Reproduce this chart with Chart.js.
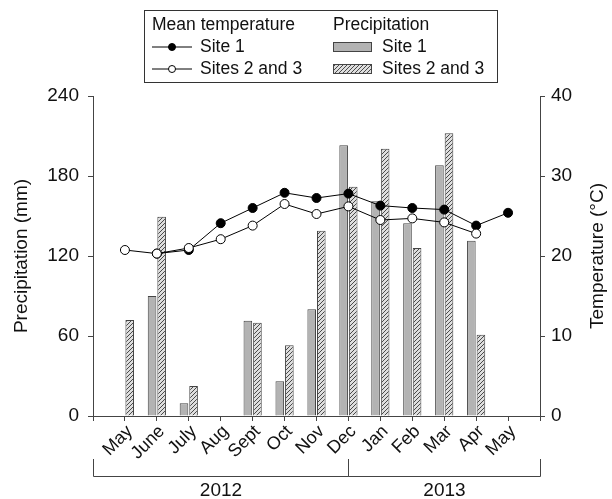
<!DOCTYPE html>
<html lang="en">
  <head>
    <meta charset="UTF-8" />
    <title>Precipitation and temperature</title>
    <script src="https://cdn.jsdelivr.net/npm/chart.js@4.4.0/dist/chart.umd.min.js"></script>
    <style>
      html, body { margin: 0; padding: 0; background: #fff; }
    </style>
  </head>
  <body>
    <canvas id="climate" width="612" height="499"></canvas>
    <script>
      // months May 2012 .. May 2013
      var months = ["May", "June", "July", "Aug", "Sept", "Oct", "Nov", "Dec", "Jan", "Feb", "Mar", "Apr", "May"];
      var precipSite1 = [null, 90, 9.5, null, 71.5, 26, 80, 203, 161, 144.5, 188, 131.5, null];
      var precipSites23 = [72, 149.5, 22.5, null, 70, 53, 139, 172, 200.5, 126, 212, 61, null];
      var tempSite1 = [null, 20.3, 20.75, 24.1, 26.0, 27.9, 27.25, 27.8, 26.3, 26.0, 25.8, 23.8, 25.4];
      var tempSites23 = [20.75, 20.3, 21.0, 22.1, 23.8, 26.5, 25.25, 26.2, 24.5, 24.7, 24.2, 22.8, null];
      var precipTicks = [0, 60, 120, 180, 240];
      var tempTicks = [0, 10, 20, 30, 40];
      var years = [{ label: "2012", from: 0, to: 8 }, { label: "2013", from: 8, to: 14 }];

      var FONT = "Liberation Sans, Arial, sans-serif";
      var INK = "#111";
      var AXIS = "#444";

      // empty slot at each end so the months sit on ticks 1..13
      var labels = [""].concat(months, [""]);
      function pad(arr) { return [null].concat(arr, [null]); }

      // hatched fill
      var pc = document.createElement("canvas");
      pc.width = 4; pc.height = 4;
      var px = pc.getContext("2d");
      px.fillStyle = "#dedede";
      px.fillRect(0, 0, 4, 4);
      px.strokeStyle = "#4a4a4a";
      px.lineWidth = 1;
      px.beginPath();
      px.moveTo(-1, 5); px.lineTo(5, -1);
      px.moveTo(-1, 1); px.lineTo(1, -1);
      px.moveTo(3, 5); px.lineTo(5, 3);
      px.stroke();
      var ctx = document.getElementById("climate").getContext("2d");
      var hatch = ctx.createPattern(pc, "repeat");

      function swatchLine(c, x, y, filled) {
        c.strokeStyle = "#000";
        c.lineWidth = 1;
        c.beginPath();
        c.moveTo(x, y); c.lineTo(x + 40, y);
        c.stroke();
        c.beginPath();
        c.arc(x + 20, y, 3.5, 0, Math.PI * 2);
        c.fillStyle = filled ? "#000" : "#fff";
        c.fill();
        c.stroke();
      }

      var extras = {
        id: "extras",
        afterDraw: function (chart) {
          var c = chart.ctx;
          var xs = chart.scales.x;
          var area = chart.chartArea;
          c.save();
          c.fillStyle = INK;
          c.font = "19px " + FONT;
          c.textBaseline = "middle";

          // axis titles, both read bottom-to-top
          c.textAlign = "center";
          c.save();
          c.translate(22, (area.top + area.bottom) / 2);
          c.rotate(-Math.PI / 2);
          c.fillText("Precipitation (mm)", 0, 0);
          c.restore();
          c.save();
          c.translate(598, (area.top + area.bottom) / 2);
          c.rotate(-Math.PI / 2);
          c.fillText("Temperature (°C)", 0, 0);
          c.restore();

          // year brackets
          c.strokeStyle = AXIS;
          c.lineWidth = 1;
          var yTop = 459, yLine = 476.5;
          years.forEach(function (yr) {
            var x0 = Math.round(xs.getPixelForValue(yr.from)) + 0.5;
            var x1 = Math.round(xs.getPixelForValue(yr.to)) + 0.5;
            c.beginPath();
            c.moveTo(x0, yTop); c.lineTo(x0, yLine); c.lineTo(x1, yLine); c.lineTo(x1, yTop);
            c.stroke();
            c.fillText(yr.label, (x0 + x1) / 2, 491);
          });

          // legend box
          c.font = "17.5px " + FONT;
          c.strokeStyle = "#333";
          c.strokeRect(144.5, 10.5, 353, 72);
          c.textAlign = "left";
          c.fillText("Mean temperature", 152, 25);
          swatchLine(c, 152, 47, true);
          c.fillStyle = INK;
          c.fillText("Site 1", 200, 47);
          swatchLine(c, 152, 69, false);
          c.fillStyle = INK;
          c.fillText("Sites 2 and 3", 200, 69);

          c.fillText("Precipitation", 333, 25);
          c.strokeStyle = "#444";
          c.fillStyle = "#b3b3b3";
          c.fillRect(334, 43, 37, 8);
          c.strokeRect(333.5, 42.5, 38, 9);
          c.fillStyle = hatch;
          c.fillRect(334, 65, 37, 8);
          c.strokeRect(333.5, 64.5, 38, 9);
          c.fillStyle = INK;
          c.fillText("Site 1", 382, 47);
          c.fillText("Sites 2 and 3", 382, 69);
          c.restore();
        }
      };

      var gridOpts = { display: true, drawOnChartArea: false, drawTicks: true, tickLength: 5, color: AXIS };

      new Chart(ctx, {
        data: {
          labels: labels,
          datasets: [
            {
              type: "line", label: "Sites 2 and 3 temp", data: pad(tempSites23), yAxisID: "y2", order: 0,
              borderColor: "#000", borderWidth: 1, pointRadius: 4.5, pointBackgroundColor: "#fff",
              pointBorderColor: "#000", pointBorderWidth: 1, tension: 0
            },
            {
              type: "line", label: "Site 1 temp", data: pad(tempSite1), yAxisID: "y2", order: 1,
              borderColor: "#000", borderWidth: 1, pointRadius: 4.5, pointBackgroundColor: "#000",
              pointBorderColor: "#000", pointBorderWidth: 1, tension: 0
            },
            {
              type: "bar", label: "Site 1 precip", data: pad(precipSite1), yAxisID: "y", order: 2,
              backgroundColor: "#b3b3b3", borderColor: "#444", borderWidth: 1,
              categoryPercentage: 0.6, barPercentage: 0.9
            },
            {
              type: "bar", label: "Sites 2 and 3 precip", data: pad(precipSites23), yAxisID: "y", order: 2,
              backgroundColor: hatch, borderColor: "#444", borderWidth: 1,
              categoryPercentage: 0.6, barPercentage: 0.9
            }
          ]
        },
        options: {
          responsive: false,
          animation: false,
          layout: { padding: { top: 96, left: 0, right: 0, bottom: 0 } },
          plugins: { legend: { display: false }, tooltip: { enabled: false } },
          scales: {
            x: {
              type: "category",
              offset: false,
              grid: Object.assign({ offset: false }, gridOpts),
              border: { display: true, color: AXIS },
              ticks: {
                autoSkip: false, minRotation: 45, maxRotation: 45, padding: 0, labelOffset: 5,
                color: INK, font: { family: FONT, size: 18 }
              },
              afterFit: function (s) { s.height = 83; }
            },
            y: {
              position: "left", min: 0, max: 240,
              grid: gridOpts,
              border: { display: true, color: AXIS },
              afterBuildTicks: function (s) { s.ticks = precipTicks.map(function (v) { return { value: v }; }); },
              ticks: { padding: 9, color: INK, font: { family: FONT, size: 19 } },
              afterFit: function (s) { s.width = 93; }
            },
            y2: {
              position: "right", min: 0, max: 40,
              grid: gridOpts,
              border: { display: true, color: AXIS },
              afterBuildTicks: function (s) { s.ticks = tempTicks.map(function (v) { return { value: v }; }); },
              ticks: { padding: 6, color: INK, font: { family: FONT, size: 19 } },
              afterFit: function (s) { s.width = 72; }
            }
          }
        },
        plugins: [extras]
      });
    </script>
  </body>
</html>
